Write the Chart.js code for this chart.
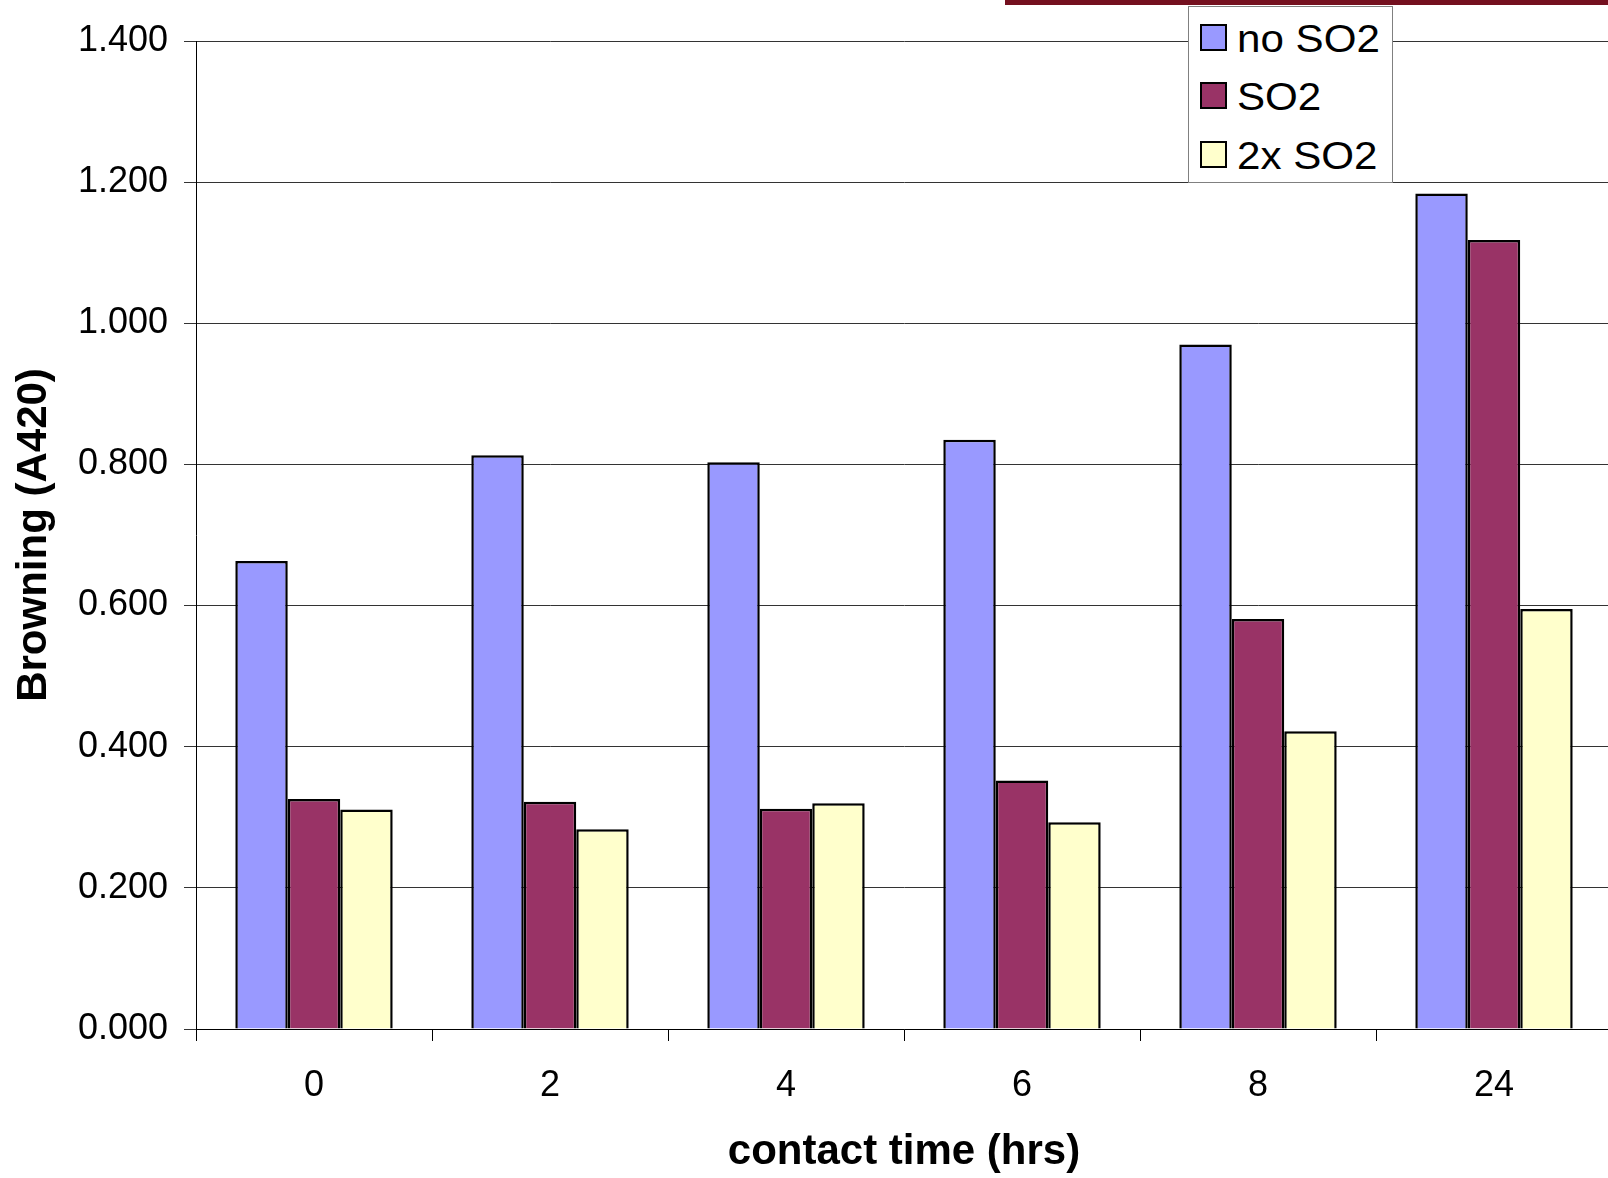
<!DOCTYPE html>
<html>
<head>
<meta charset="utf-8">
<title>Browning vs contact time</title>
<script src="https://cdn.jsdelivr.net/npm/chart.js@4/dist/chart.umd.min.js"></script>
<style>
  html, body { margin: 0; padding: 0; background: #fff; overflow: hidden; }
  #wrap { position: relative; width: 1608px; height: 1178px; overflow: hidden; }
  #chart { position: absolute; left: 0; top: 0; }
  #band { position: absolute; left: 1005px; top: 0; width: 603px; height: 5px; background: #74101f; }
  #legend {
    position: absolute; left: 1188px; top: 6px; width: 205px; height: 177px;
    box-sizing: border-box; border: 1px solid #808080; background: #fff;
    font-family: "Liberation Sans", Arial, sans-serif;
  }
  .sw { position: absolute; left: 11px; width: 27px; height: 27px; box-sizing: border-box; border: 2px solid #000; }
  .lbl { position: absolute; left: 48px; font-size: 39px; line-height: 40px; white-space: nowrap;
         transform: scaleX(1.08); transform-origin: left center; color: #000; }
</style>
</head>
<body>
<div id="wrap">
  <canvas id="chart" width="1612" height="1178"></canvas>
  <div id="band"></div>
  <div id="legend"></div>
</div>
<script>
// Contact time categories (hours)
const categories = ['0', '2', '4', '6', '8', '24'];

// Browning measured as absorbance at 420 nm
const noSO2   = [0.663, 0.813, 0.803, 0.835, 0.970, 1.184];
const so2     = [0.326, 0.322, 0.312, 0.352, 0.581, 1.118];
const so2x2   = [0.311, 0.283, 0.320, 0.293, 0.422, 0.595];

const seriesNames  = ['no SO2', 'SO2', '2x SO2'];
const seriesValues = [noSO2, so2, so2x2];
const seriesColors = ['#9999ff', '#993366', '#ffffcc'];

const yTicks = { min: 0, max: 1.4, step: 0.2 };

const FONT = '"Liberation Sans", Arial, sans-serif';

const datasets = seriesNames.map((name, i) => ({
  label: name,
  data: seriesValues[i],
  backgroundColor: seriesColors[i],
  borderColor: '#000',
  borderWidth: 2.5,
  borderSkipped: 'bottom',
  categoryPercentage: 0.667,
  barPercentage: 1.0
}));

new Chart(document.getElementById('chart'), {
  type: 'bar',
  data: { labels: categories, datasets },
  options: {
    responsive: false,
    animation: false,
    devicePixelRatio: 1,
    layout: { padding: { top: 41, right: 0, left: 0, bottom: 0 } },
    plugins: { legend: { display: false }, tooltip: { enabled: false } },
    scales: {
      x: {
        grid: { offset: true, drawOnChartArea: false, drawTicks: true, tickLength: 12, color: '#000', lineWidth: 1 },
        border: { color: '#000', width: 1 },
        ticks: { color: '#000', font: { family: FONT, size: 36 }, padding: 23, maxRotation: 0 },
        title: { display: true, text: 'contact time (hrs)', color: '#000',
                 font: { family: FONT, size: 42, weight: 'bold' }, padding: { top: 0, bottom: 0 } },
        afterFit: (s) => { s.height = 149; }
      },
      y: {
        min: yTicks.min, max: yTicks.max,
        grid: { drawOnChartArea: true, drawTicks: true, tickLength: 12, color: '#333', lineWidth: 1 },
        border: { color: '#000', width: 1 },
        ticks: { stepSize: yTicks.step, color: '#000', font: { family: FONT, size: 36 }, padding: 16,
                 callback: (v) => Number(v).toFixed(3) },
        title: { display: true, text: 'Browning (A420)', color: '#000',
                 font: { family: FONT, size: 42, weight: 'bold' }, padding: { top: 9, bottom: 0 } },
        afterFit: (s) => { s.width = 196; }
      }
    }
  }
});

// Legend box built from the series names and colours
const legend = document.getElementById('legend');
const rowCenters = [30.0, 88.5, 147.5];
seriesNames.forEach((name, i) => {
  const sw = document.createElement('div');
  sw.className = 'sw';
  sw.style.background = seriesColors[i];
  sw.style.top = (rowCenters[i] - 13.5) + 'px';
  const lbl = document.createElement('div');
  lbl.className = 'lbl';
  lbl.textContent = name;
  lbl.style.top = (rowCenters[i] + 1.4 - 19.5) + 'px';
  legend.appendChild(sw);
  legend.appendChild(lbl);
});
</script>
</body>
</html>
